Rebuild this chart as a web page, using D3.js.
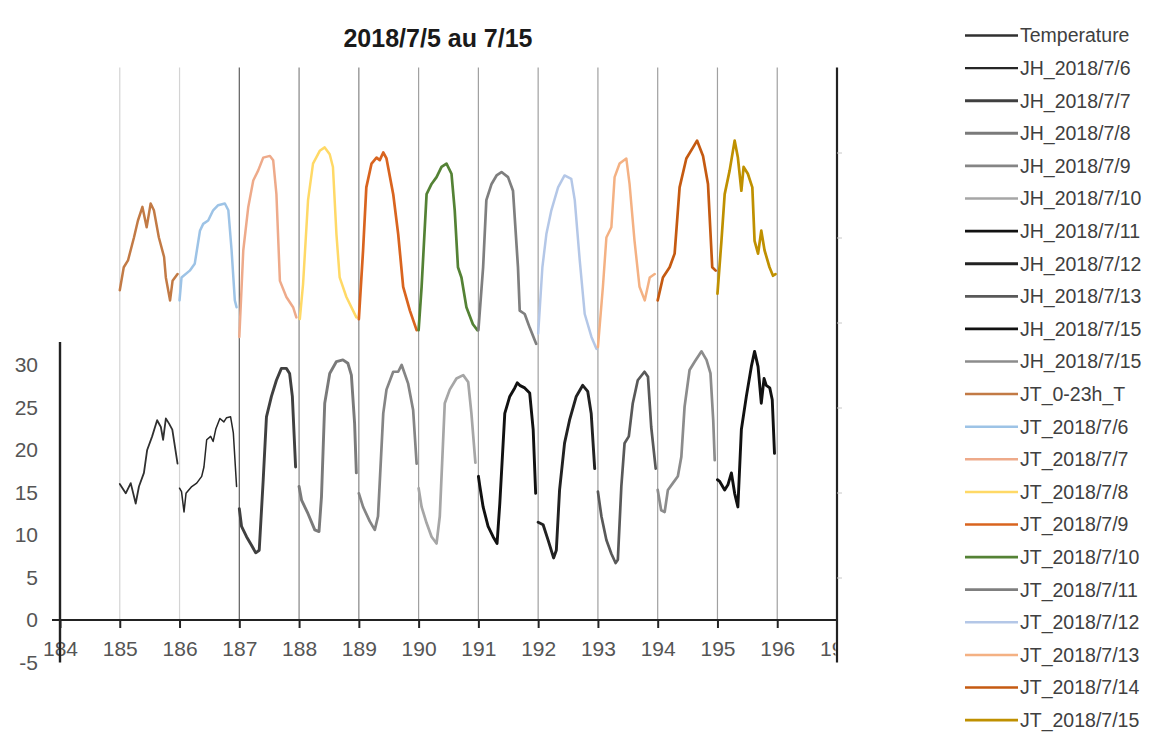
<!DOCTYPE html>
<html>
<head>
<meta charset="utf-8">
<script src="https://cdn.jsdelivr.net/npm/d3@7"></script>
<style>
  html, body { margin: 0; padding: 0; background: #fff; }
  svg { display: block; font-family: "Liberation Sans", Arial, sans-serif; }
</style>
</head>
<body>
<svg id="chart" width="1153" height="751"></svg>
<script>
// ---------------- DATA (hour of day, value) ----------------
const title = "2018/7/5 au 7/15";
const xTicks = [184, 185, 186, 187, 188, 189, 190, 191, 192, 193, 194, 195, 196, 197];
const yTicksLeft = [-5, 0, 5, 10, 15, 20, 25, 30];
const yTicksRight = [-20, -10, 0, 10, 20, 30];
const gridDays = [185, 186, 187, 188, 189, 190, 191, 192, 193, 194, 195, 196];

// Lower group (left axis)
const temperature185 = [[0,16.0],[2.4,14.9],[4.4,16.1],[6.4,13.7],[7.7,15.7],[9.7,17.3],[11,20.0],[13,21.6],[15,23.5],[16.5,22.7],[17.4,21.2],[18.5,23.7],[19.8,23.1],[21.1,22.4],[23.2,18.4]];
const jh0706 = [[0,15.5],[0.8,15.1],[1.8,12.7],[2.6,14.9],[4.9,15.7],[6.9,16.1],[8.9,16.9],[9.8,18.0],[10.9,21.2],[12.5,21.6],[13.5,21.0],[14.6,22.5],[16.2,23.7],[17.8,23.3],[18.9,23.8],[20.5,23.9],[21.6,22.0],[22.9,15.7]];
const jh0707 = [[0,13.1],[0.9,11.0],[2.9,9.8],[4.9,8.8],[6.6,7.9],[8.0,8.2],[9.6,16.5],[10.9,23.9],[12.9,26.3],[14.9,28.2],[16.9,29.6],[18.9,29.6],[20.2,29.0],[21.3,26.3],[22.6,18.0]];
const jh0708 = [[0,15.7],[1.0,14.1],[3.6,12.5],[6.3,10.6],[8.0,10.4],[9.0,14.5],[10.3,25.5],[12.3,29.0],[15.0,30.4],[17.6,30.6],[19.6,30.2],[21.0,28.8],[22.3,23.1],[23.0,17.3]];
const jh0709 = [[0,14.9],[1.7,13.3],[4.4,11.6],[6.4,10.6],[7.7,12.2],[9.8,24.3],[11.1,27.1],[13.8,29.2],[15.8,29.2],[17.2,30.0],[19.8,27.8],[21.8,24.7],[23.2,18.4]];
const jh0710 = [[0,15.5],[1.2,13.3],[3.2,11.4],[5.2,9.8],[7.2,9.0],[8.5,12.2],[10.5,25.5],[12.5,27.1],[15.2,28.4],[17.9,28.8],[19.9,28.0],[21.2,24.3],[22.8,18.5]];
const jh0711 = [[0,16.9],[0.6,15.7],[1.9,13.3],[3.9,11.0],[5.9,9.8],[7.5,9.0],[8.6,13.7],[10.6,24.3],[12.6,26.3],[14.6,27.3],[15.6,27.9],[16.6,27.6],[18.6,27.3],[20.6,26.7],[22.0,22.4],[23.0,14.9]];
const jh0712 = [[0,11.5],[2.0,11.2],[4.0,9.4],[6.2,7.3],[7.3,8.2],[8.6,15.3],[10.6,20.8],[12.6,23.5],[15.3,26.3],[17.9,27.6],[19.9,26.9],[21.3,24.3],[22.7,17.8]];
const jh0713 = [[0,15.1],[1.4,12.2],[3.4,9.4],[5.4,7.8],[7.1,6.7],[8.0,7.1],[9.4,15.7],[10.7,20.8],[12.4,21.6],[14.0,25.5],[16.0,28.2],[18.7,29.2],[20.1,28.6],[21.4,22.7],[23.2,17.8]];
const jh0715a = [[0,16.5],[0.9,16.3],[2.9,15.3],[4.2,15.9],[5.6,17.3],[6.9,14.9],[8.2,13.3],[9.6,22.4],[11.6,26.3],[13.6,29.8],[14.9,31.6],[16.3,29.8],[17.6,25.5],[18.7,28.4],[19.6,27.6],[21.0,27.3],[22.0,25.9],[22.9,19.6]];
const jh0715b = [[0,15.3],[1.4,12.9],[2.8,12.7],[4.1,15.3],[6.1,16.1],[8.1,16.9],[9.5,19.2],[10.8,25.1],[12.8,29.4],[14.9,30.4],[17.6,31.6],[19.6,30.6],[21.2,29.0],[22.3,23.5],[22.9,18.8]];

// Upper group (right axis)
const jt0023 = [[0,13.8],[1.6,16.5],[3.3,17.3],[5.7,20.0],[7.3,22.0],[9.1,23.6],[10.8,21.2],[12.4,24.0],[13.7,23.2],[15.7,20.0],[17.8,17.7],[18.5,15.3],[20.2,12.6],[21.2,14.9],[23.2,15.7]];
const jt0706 = [[0,12.6],[0.8,15.3],[4.1,16.1],[6.1,16.9],[8.2,20.8],[9.5,21.6],[11.5,22.0],[13.5,23.2],[15.5,23.8],[18.2,24.0],[19.6,23.2],[20.9,18.5],[22.2,12.6],[22.9,11.8]];
const jt0707 = [[0,8.3],[1.6,18.5],[3.6,23.6],[5.6,26.7],[7.6,27.9],[9.6,29.4],[12.3,29.6],[13.6,29.1],[14.9,25.1],[16.3,14.9],[18.9,13.0],[21.6,11.8],[22.9,10.6]];
const jt0708 = [[0.3,10.4],[1.6,14.5],[3.6,24.4],[5.6,28.7],[8.3,30.2],[10.3,30.6],[12.3,29.8],[13.6,28.3],[15.0,20.4],[16.3,15.3],[19.0,13.0],[23.0,10.6]];
const jt0709 = [[0,10.4],[1.7,18.5],[3.0,25.9],[5.1,28.7],[7.1,29.4],[8.4,29.1],[9.8,30.0],[11.1,29.3],[13.8,25.1],[15.8,20.4],[17.8,14.2],[20.5,11.4],[23.2,9.1]];
const jt0710 = [[0,9.1],[1.2,14.2],[3.2,25.1],[5.2,26.3],[7.2,27.1],[9.2,28.3],[11.2,28.7],[13.2,27.5],[14.5,23.2],[15.8,16.5],[17.2,15.3],[19.2,11.8],[21.8,9.8],[23.6,9.1]];
const jt0711 = [[0,9.1],[1.9,16.5],[3.2,24.4],[5.3,26.3],[7.3,27.3],[9.3,27.7],[11.9,27.1],[13.9,25.5],[15.9,16.5],[16.6,11.4],[18.6,11.0],[20.6,9.4],[23.2,7.5]];
const jt0712 = [[0,8.7],[1.7,16.5],[3.3,20.4],[5.3,23.2],[8.0,25.9],[10.6,27.3],[13.3,26.9],[14.7,24.4],[16.7,17.3],[18.7,11.0],[21.4,8.3],[23.4,6.9]];
const jt0713 = [[0,7.1],[2.0,14.2],[3.4,20.0],[5.4,21.2],[6.7,27.1],[8.7,28.7],[11.4,29.3],[12.7,26.3],[14.7,19.6],[16.7,14.2],[18.8,12.6],[20.8,15.3],[22.8,15.7]];
const jt0714 = [[0,12.6],[2.1,15.3],[4.8,16.5],[6.8,18.1],[8.8,25.9],[11.5,29.3],[14.2,30.6],[15.8,31.4],[18.2,29.6],[20.2,26.3],[21.9,16.5],[23.3,16.1]];
const jt0715 = [[0,13.4],[1.6,19.6],[2.9,25.1],[4.9,27.9],[6.9,31.4],[8.2,29.4],[9.6,25.5],[10.5,28.3],[12.2,27.5],[14.0,25.9],[14.9,19.6],[16.3,18.1],[17.6,20.8],[18.9,18.5],[20.9,16.5],[22.3,15.5],[23.3,15.7]];

// Series list (name, start day, points, axis)
const series = [
  {name: "Temperature",   day: 185, pts: temperature185, axis: "L"},
  {name: "JH_2018/7/6",   day: 186, pts: jh0706,  axis: "L"},
  {name: "JH_2018/7/7",   day: 187, pts: jh0707,  axis: "L"},
  {name: "JH_2018/7/8",   day: 188, pts: jh0708,  axis: "L"},
  {name: "JH_2018/7/9",   day: 189, pts: jh0709,  axis: "L"},
  {name: "JH_2018/7/10",  day: 190, pts: jh0710,  axis: "L"},
  {name: "JH_2018/7/11",  day: 191, pts: jh0711,  axis: "L"},
  {name: "JH_2018/7/12",  day: 192, pts: jh0712,  axis: "L"},
  {name: "JH_2018/7/13",  day: 193, pts: jh0713,  axis: "L"},
  {name: "JH_2018/7/15",  day: 195, pts: jh0715a, axis: "L"},
  {name: "JH_2018/7/15",  day: 194, pts: jh0715b, axis: "L"},
  {name: "JT_0-23h_T",    day: 185, pts: jt0023,  axis: "R"},
  {name: "JT_2018/7/6",   day: 186, pts: jt0706,  axis: "R"},
  {name: "JT_2018/7/7",   day: 187, pts: jt0707,  axis: "R"},
  {name: "JT_2018/7/8",   day: 188, pts: jt0708,  axis: "R"},
  {name: "JT_2018/7/9",   day: 189, pts: jt0709,  axis: "R"},
  {name: "JT_2018/7/10",  day: 190, pts: jt0710,  axis: "R"},
  {name: "JT_2018/7/11",  day: 191, pts: jt0711,  axis: "R"},
  {name: "JT_2018/7/12",  day: 192, pts: jt0712,  axis: "R"},
  {name: "JT_2018/7/13",  day: 193, pts: jt0713,  axis: "R"},
  {name: "JT_2018/7/14",  day: 194, pts: jt0714,  axis: "R"},
  {name: "JT_2018/7/15",  day: 195, pts: jt0715,  axis: "R"}
];

// ---------------- STYLES ----------------
const seriesStyle = [
  {c: "#303030", w: 1.8}, {c: "#262626", w: 1.5}, {c: "#404040", w: 2.9}, {c: "#7a7a7a", w: 2.9},
  {c: "#858585", w: 2.7}, {c: "#a6a6a6", w: 2.7}, {c: "#111111", w: 2.9}, {c: "#222222", w: 2.9},
  {c: "#595959", w: 2.7}, {c: "#111111", w: 2.9}, {c: "#8c8c8c", w: 2.7},
  {c: "#c27a45", w: 2.5}, {c: "#9dc3e6", w: 2.5}, {c: "#eeaa8a", w: 2.5}, {c: "#ffd966", w: 2.5},
  {c: "#d9641f", w: 2.7}, {c: "#548235", w: 2.7}, {c: "#7f7f7f", w: 2.7}, {c: "#b4c7e7", w: 2.5},
  {c: "#f4b183", w: 2.5}, {c: "#c55a11", w: 2.7}, {c: "#bf9000", w: 2.7}
];
const gridColor = d => d <= 186 ? "#d4d4d4" : d === 187 ? "#5e5e5e" : d <= 189 ? "#858585" : "#a0a0a0";

// ---------------- SCALES ----------------
const svg = d3.select("#chart");
const x = d3.scaleLinear().domain([184, 197]).range([60, 837]);
const yL = d3.scaleLinear().domain([-5, 32.7]).range([662.5, 342]);
const yR = d3.scaleLinear().domain([-30, 40]).range([662.5, 67.5]);
const axisY0 = yL(0);
const fmt = d => String(d); // plain hyphen-minus as in source

// Title
svg.append("text").attr("x", 438).attr("y", 47).attr("text-anchor", "middle")
  .attr("font-size", 25).attr("font-weight", "bold").attr("fill", "#1a1a1a").text(title);

// Vertical gridlines
svg.append("g").selectAll("line").data(gridDays).join("line")
  .attr("x1", d => x(d)).attr("x2", d => x(d))
  .attr("y1", yR(40)).attr("y2", axisY0)
  .attr("stroke", d => gridColor(d)).attr("stroke-width", 1.2);

// Right axis
const rAxis = svg.append("g").attr("transform", `translate(${x(197)},0)`)
  .call(d3.axisRight(yR).tickValues(yTicksRight).tickSize(5).tickFormat(""));
rAxis.select(".domain").attr("d", `M0,${yR(40)}V${yL(-5)}`).attr("stroke", "#222").attr("stroke-width", 2.2);
rAxis.selectAll(".tick line").attr("stroke", "#c8c8c8");

// Left axis
const lAxis = svg.append("g").attr("transform", `translate(${x(184)},0)`)
  .call(d3.axisLeft(yL).tickValues(yTicksLeft).tickSize(0).tickPadding(22).tickFormat(fmt));
lAxis.select(".domain").remove();
lAxis.selectAll("text").attr("font-size", 21).attr("fill", "#555");

// X axis
const xAxis = svg.append("g").attr("transform", `translate(0,${axisY0})`)
  .call(d3.axisBottom(x).tickValues(xTicks).tickSize(8).tickPadding(21).tickFormat(fmt));
xAxis.select(".domain").attr("d", `M52,0H${x(197)}`).attr("stroke", "#222").attr("stroke-width", 2);
xAxis.selectAll(".tick line").attr("stroke", "#222").attr("stroke-width", 2);
xAxis.selectAll("text").attr("font-size", 21).attr("fill", "#555").attr("dy", "0.35em");
// clip the last label at the right axis
svg.append("defs").append("clipPath").attr("id", "lastclip")
  .append("rect").attr("x", -60).attr("y", -5).attr("width", 58).attr("height", 60);
xAxis.selectAll(".tick").filter(d => d === 197).select("text").attr("clip-path", "url(#lastclip)");
xAxis.selectAll(".tick").filter(d => d === 197).select("line").remove();
// left axis line drawn over the x labels
svg.append("line").attr("x1", x(184)).attr("x2", x(184)).attr("y1", yL(32.7)).attr("y2", yL(-5))
  .attr("stroke", "#222").attr("stroke-width", 2.4);

// Lines
const gLines = svg.append("g").attr("fill", "none").attr("stroke-linejoin", "round").attr("stroke-linecap", "round");
series.forEach((s, i) => {
  const yS = s.axis === "L" ? yL : yR;
  const line = d3.line().x(d => x(s.day + d[0] / 24)).y(d => yS(d[1]));
  gLines.append("path").datum(s.pts).attr("d", line)
    .attr("stroke", seriesStyle[i].c).attr("stroke-width", seriesStyle[i].w);
});

// Legend
const legend = svg.append("g");
series.forEach((s, i) => {
  const yy = 35.5 + 32.6 * i;
  legend.append("line").attr("x1", 965).attr("x2", 1018).attr("y1", yy).attr("y2", yy)
    .attr("stroke", seriesStyle[i].c).attr("stroke-width", Math.max(2.4, seriesStyle[i].w));
  legend.append("text").attr("x", 1020).attr("y", yy).attr("dy", "0.35em")
    .attr("font-size", 19.5).attr("fill", "#404040").text(s.name);
});
</script>
</body>
</html>
